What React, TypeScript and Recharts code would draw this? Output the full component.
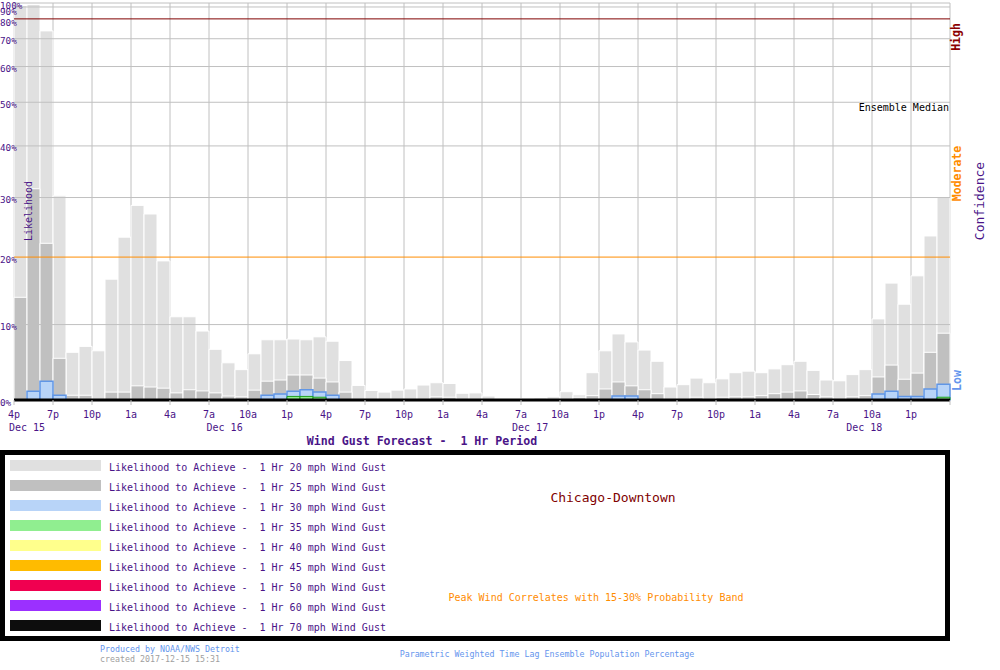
import React from 'react';
import { BarChart, Bar, XAxis, YAxis, CartesianGrid, ReferenceLine } from 'recharts';

// hour index 0 = 4p Dec 15, one bar per hour
const hourTicks = [0, 3, 6, 9, 12, 15, 18, 21, 24, 27, 30, 33, 36, 39, 42, 45, 48, 51, 54, 57, 60, 63, 66, 69, 72];
const hourLabels = ['4p', '7p', '10p', '1a', '4a', '7a', '10a', '1p', '4p', '7p', '10p', '1a', '4a', '7a', '10a', '1p', '4p', '7p', '10p', '1a', '4a', '7a', '10a', '1p', ''];
const dateTicks = [1, 16.2, 39.7, 65.4];
const dateLabels = ['Dec 15', 'Dec 16', 'Dec 17', 'Dec 18'];
const pctTicks = [0, 10, 20, 30, 40, 50, 60, 70, 80, 90, 100];

// likelihood (%) to reach each gust speed
const gust20 = [
  92, 94, 73.5, 30.3, 6.2, 7.0, 6.4, 16.6, 23.2, 28.6, 27.1, 19.4,
  11.1, 11.1, 9.1, 6.6, 4.8, 3.9, 6.0, 7.9, 7.9, 8.0, 7.9, 8.3,
  7.7, 5.1, 1.85, 1.2, 1.0, 1.25, 1.4, 1.9, 2.2, 2.1, 0.85, 0.9,
  0.5, 0.2, 0.2, 0.2, 0.25, 0.4, 1.05, 0.65, 3.5, 6.4, 8.7, 7.6,
  6.5, 5.0, 1.65, 1.95, 2.8, 2.2, 2.7, 3.5, 3.7, 3.5, 4.0, 4.55,
  5.0, 3.8, 2.55, 2.45, 3.25, 3.9, 10.8, 16.0, 12.9, 17.1, 23.4, 30.0,
];
const gust25 = [
  13.9, 31.6, 22.2, 5.4, 0.6, 0.6, 0, 1.0, 1.0, 1.8, 1.65, 1.5,
  0.9, 1.3, 1.15, 0.9, 0.5, 0.4, 1.25, 2.4, 2.55, 3.2, 3.2, 2.8,
  2.3, 1.0, 0, 0, 0, 0, 0, 0, 0.4, 0.35, 0, 0,
  0, 0, 0, 0, 0, 0, 0, 0.35, 0.55, 1.4, 2.3, 1.8,
  1.3, 0.8, 0, 0, 0.35, 0, 0.35, 0.4, 0.4, 0.55, 0.8, 1.0,
  1.15, 0.7, 0.4, 0, 0.4, 0.55, 2.95, 4.5, 2.65, 3.45, 6.2, 8.8,
];
const gust30 = [
  0, 1.1, 2.4, 0.6, 0, 0, 0, 0, 0, 0, 0, 0,
  0, 0, 0, 0, 0, 0, 0, 0.6, 0.75, 1.1, 1.3, 1.0,
  0.6, 0, 0, 0, 0, 0, 0, 0, 0, 0, 0, 0,
  0, 0, 0, 0, 0, 0, 0, 0, 0, 0, 0.5, 0.5,
  0, 0, 0, 0, 0, 0, 0, 0, 0, 0, 0, 0,
  0, 0, 0, 0, 0, 0, 0.75, 1.1, 0.45, 0.45, 1.4, 2.0,
];
const gust35 = [
  0, 0, 0, 0, 0, 0, 0, 0, 0, 0, 0, 0,
  0, 0, 0, 0, 0, 0, 0, 0, 0, 0.45, 0.45, 0.35,
  0, 0, 0, 0, 0, 0, 0, 0, 0, 0, 0, 0,
  0, 0, 0, 0, 0, 0, 0, 0, 0, 0, 0, 0,
  0, 0, 0, 0, 0, 0, 0, 0, 0, 0, 0, 0,
  0, 0, 0, 0, 0, 0, 0, 0, 0, 0, 0, 0.35,
];

const legendSpeeds = ['20', '25', '30', '35', '40', '45', '50', '60', '70'];
const legendColors = ['#e0e0e0', '#c0c0c0', '#b8d4f8', '#90ee90', '#ffff8c', '#ffbb00', '#f00050', '#9b30ff', '#0d0d0d'];

const MONO = '"DejaVu Sans Mono", "Liberation Mono", monospace';
const PURPLE = '#4a1488';
const GRID = '#c0c0c0';

// the y axis is stretched toward the bottom: position = 1 - (1 - p)^2
const warp = (p: number) => 100 * (1 - Math.pow(1 - p / 100, 2));

const rows = gust20.map((v, i) => ({
  hour: i + 0.5,
  g20: warp(v),
  g25: warp(gust25[i]),
  g30: warp(gust30[i]),
  g35: warp(gust35[i]),
}));

const HourTick = ({ x, y, payload }: any) => {
  const idx = hourTicks.indexOf(payload.value);
  return (
    <text x={x} y={y + 13} textAnchor="middle" fill={PURPLE} fontSize={10} fontFamily={MONO}>
      {hourLabels[idx] ?? ''}
    </text>
  );
};

const DateTick = ({ x, y, payload }: any) => {
  const idx = dateTicks.indexOf(payload.value);
  return (
    <text x={x} y={y + 17} textAnchor="middle" fill={PURPLE} fontSize={10} fontFamily={MONO}>
      {dateLabels[idx] ?? ''}
    </text>
  );
};

const PctTick = ({ y, payload }: any) => {
  const p = pctTicks.find((t) => Math.abs(warp(t) - payload.value) < 1e-6) ?? 0;
  // the top labels crowd together, as in the original; keep 100% inside the frame
  const dy = p === 100 ? 5.7 : p === 90 ? 8 : p === 80 ? 7 : 5.5;
  return (
    <text x={0} y={y + dy} textAnchor="start" fill={PURPLE} fontSize={9.3} fontFamily={MONO}>
      {p}%
    </text>
  );
};

const lineColor = (p: number) => (p === 20 ? '#ff8c00' : p === 80 ? '#800000' : GRID);

export default function App() {
  return (
    <div style={{ position: 'absolute', left: 0, top: 0, width: 1000, height: 670, background: '#fff' }}>
      <BarChart
        width={1000}
        height={450}
        data={rows}
        margin={{ top: 3, right: 50, left: 0, bottom: 22 }}
        barCategoryGap={0}
        barGap={0}
      >
        <CartesianGrid horizontal={false} stroke={GRID} />
        <XAxis
          dataKey="hour"
          type="number"
          domain={[0, 72]}
          ticks={hourTicks}
          interval={0}
          tick={<HourTick />}
          tickSize={5}
          tickMargin={0}
          tickLine={{ stroke: GRID }}
          axisLine={{ stroke: '#000', strokeWidth: 3 }}
          height={14}
        />
        <XAxis
          xAxisId="date"
          dataKey="hour"
          type="number"
          domain={[0, 72]}
          ticks={dateTicks}
          interval={0}
          tick={<DateTick />}
          tickSize={0}
          tickMargin={0}
          tickLine={false}
          axisLine={false}
          height={14}
        />
        <XAxis xAxisId="g25" dataKey="hour" type="number" domain={[0, 72]} hide />
        <XAxis xAxisId="g30" dataKey="hour" type="number" domain={[0, 72]} hide />
        <XAxis xAxisId="g35" dataKey="hour" type="number" domain={[0, 72]} hide />
        <YAxis
          type="number"
          domain={[0, 100]}
          ticks={pctTicks.map(warp)}
          interval={0}
          tick={<PctTick />}
          axisLine={false}
          tickLine={false}
          width={14}
        />
        <Bar dataKey="g20" fill={legendColors[0]} stroke="#fff" strokeWidth={1} isAnimationActive={false} />
        <Bar dataKey="g25" xAxisId="g25" fill={legendColors[1]} stroke="#fff" strokeWidth={1} isAnimationActive={false} />
        <Bar dataKey="g30" xAxisId="g30" fill={legendColors[2]} stroke="#6096e6" strokeWidth={1.5} isAnimationActive={false} />
        <Bar dataKey="g35" xAxisId="g35" fill={legendColors[3]} stroke="#22a022" strokeWidth={1} isAnimationActive={false} />
        {pctTicks.map((p) => (
          <ReferenceLine key={p} y={warp(p)} stroke={lineColor(p)} strokeWidth={1} />
        ))}
      </BarChart>

      <svg
        width={1000}
        height={670}
        style={{ position: 'absolute', left: 0, top: 0, pointerEvents: 'none' }}
        fontFamily={MONO}
      >
        <text x={31.5} y={211} transform="rotate(-90 31.5 211)" textAnchor="middle" fontSize={10} fill={PURPLE}>
          Likelihood
        </text>
        <text x={949} y={110.5} textAnchor="end" fontSize={10} fill="#000">
          Ensemble Median
        </text>
        <text x={960} y={37} transform="rotate(-90 960 37)" textAnchor="middle" fontSize={11.5} fontWeight="bold" fill="#8b0000">
          High
        </text>
        <text x={961} y={173.5} transform="rotate(-90 961 173.5)" textAnchor="middle" fontSize={11.5} fontWeight="bold" fill="#ff8c00">
          Moderate
        </text>
        <text x={961} y={380.5} transform="rotate(-90 961 380.5)" textAnchor="middle" fontSize={11.5} fontWeight="bold" fill="#6495ed">
          Low
        </text>
        <text x={984} y={201} transform="rotate(-90 984 201)" textAnchor="middle" fontSize={13} fill={PURPLE}>
          Confidence
        </text>
        <text x={422} y={445} textAnchor="middle" fontSize={11.6} fontWeight="bold" fill={PURPLE} style={{ whiteSpace: 'pre' }}>
          {'Wind Gust Forecast -  1 Hr Period'}
        </text>

        <rect x={2.5} y={452.5} width={945} height={186} fill="none" stroke="#000" strokeWidth={5} />
        {legendSpeeds.map((s, i) => (
          <g key={s}>
            <rect x={10} y={460 + i * 20} width={91} height={11} fill={legendColors[i]} />
            <text x={109} y={471 + i * 20} fontSize={10} fill={PURPLE} style={{ whiteSpace: 'pre' }}>
              {`Likelihood to Achieve -  1 Hr ${s} mph Wind Gust`}
            </text>
          </g>
        ))}
        <text x={613} y={502} textAnchor="middle" fontSize={13} fill="#800000">
          Chicago-Downtown
        </text>
        <text x={596} y={600.5} textAnchor="middle" fontSize={10} fill="#ff8c00">
          Peak Wind Correlates with 15-30% Probability Band
        </text>

        <text x={100} y={651.5} fontSize={8.3} fill="#6495ed">
          Produced by NOAA/NWS Detroit
        </text>
        <text x={100} y={662} fontSize={8.3} fill="#a0a0a0">
          created 2017-12-15 15:31
        </text>
        <text x={547} y={657} textAnchor="middle" fontSize={8.3} fill="#6495ed">
          Parametric Weighted Time Lag Ensemble Population Percentage
        </text>
      </svg>
    </div>
  );
}
